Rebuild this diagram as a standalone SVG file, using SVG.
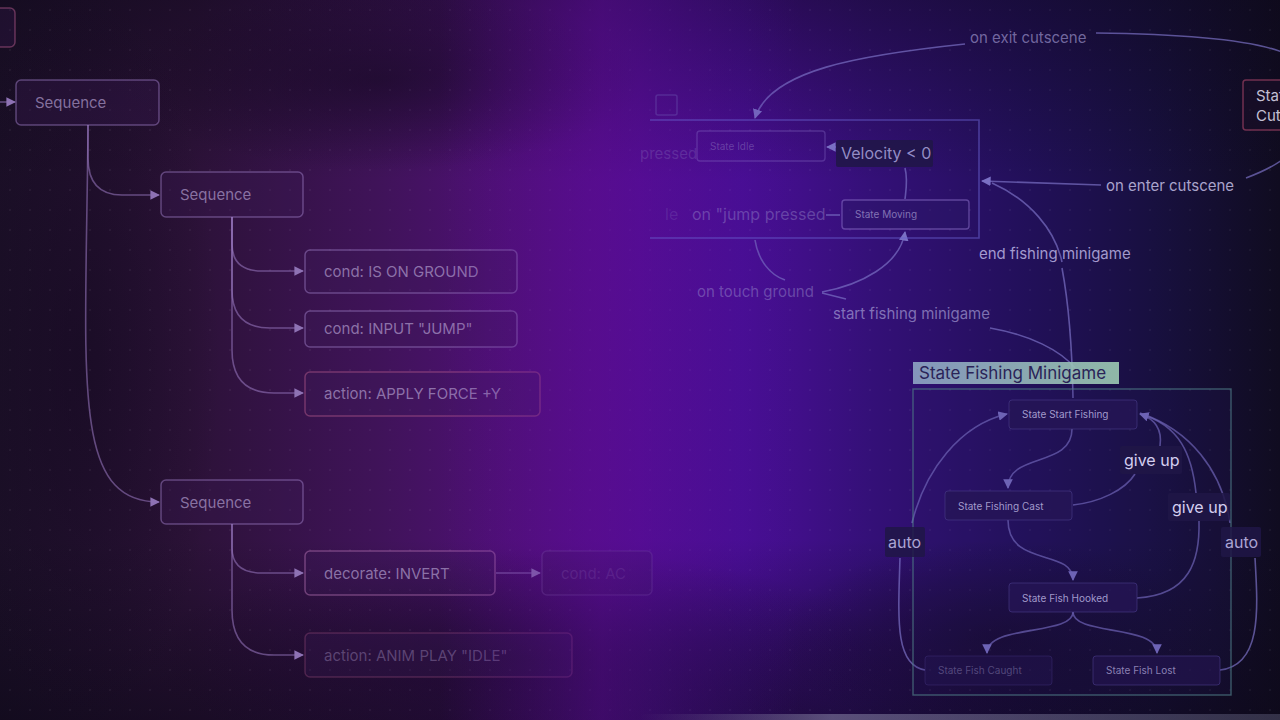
<svg xmlns="http://www.w3.org/2000/svg" width="1280" height="720" viewBox="0 0 1280 720">
<defs>
<linearGradient id="bg" x1="0" y1="0" x2="1" y2="0">
<stop offset="0" stop-color="#1c1028"/>
<stop offset="0.15" stop-color="#2c1238"/>
<stop offset="0.3" stop-color="#40135a"/>
<stop offset="0.42" stop-color="#520f7c"/>
<stop offset="0.5" stop-color="#5a0c96"/>
<stop offset="0.58" stop-color="#4a0e96"/>
<stop offset="0.68" stop-color="#341078"/>
<stop offset="0.8" stop-color="#22105a"/>
<stop offset="0.9" stop-color="#181040"/>
<stop offset="1" stop-color="#100c20"/>
</linearGradient>
<linearGradient id="vtop" x1="0" y1="0" x2="0" y2="1">
<stop offset="0" stop-color="#0d0818" stop-opacity="0.45"/>
<stop offset="0.25" stop-color="#0d0818" stop-opacity="0"/>
<stop offset="0.75" stop-color="#0d0818" stop-opacity="0"/>
<stop offset="1" stop-color="#0d0818" stop-opacity="0.6"/>
</linearGradient>
<radialGradient id="cloud" cx="0.5" cy="0.5" r="0.5">
<stop offset="0" stop-color="#12081e" stop-opacity="0.5"/>
<stop offset="1" stop-color="#12081e" stop-opacity="0"/>
</radialGradient>
<linearGradient id="haze" x1="0" y1="0" x2="1" y2="0">
<stop offset="0" stop-color="#560c90" stop-opacity="0"/>
<stop offset="0.45" stop-color="#560c92" stop-opacity="0.5"/>
<stop offset="0.6" stop-color="#4a0e90" stop-opacity="0.4"/>
<stop offset="1" stop-color="#3a0f88" stop-opacity="0"/>
</linearGradient>
<linearGradient id="tagbg" x1="0" y1="0" x2="1" y2="0">
<stop offset="0" stop-color="#8ea4c4"/>
<stop offset="1" stop-color="#9ccab2"/>
</linearGradient>
<linearGradient id="floor" x1="0" y1="0" x2="1" y2="0">
<stop offset="0" stop-color="#8a86a8" stop-opacity="0"/>
<stop offset="0.3" stop-color="#8a86a8" stop-opacity="0.55"/>
<stop offset="1" stop-color="#6a6a88" stop-opacity="0.4"/>
</linearGradient>
<pattern id="dots" width="20" height="20" patternUnits="userSpaceOnUse">
<circle cx="10" cy="10" r="1" fill="#ffffff" fill-opacity="0.06"/>
</pattern>
<marker id="ah" viewBox="0 0 10 10" refX="9" refY="5" markerWidth="6" markerHeight="6" orient="auto-start-reverse">
<path d="M0,0 L10,5 L0,10 z" fill="#8e72b4"/>
</marker>
<marker id="ahb" viewBox="0 0 10 10" refX="9" refY="5" markerWidth="6" markerHeight="6" orient="auto-start-reverse">
<path d="M0,0 L10,5 L0,10 z" fill="#7a70c4"/>
</marker>
<style>
.t{font-family:Inter,"Noto Sans","Liberation Sans",sans-serif}
.bt{fill:#3a1a56;fill-opacity:0.3;stroke:#9c7cc4;stroke-opacity:0.5;stroke-width:1.5}
.rt{fill:#3a1a56;fill-opacity:0.25;stroke:#b25a8a;stroke-opacity:0.5;stroke-width:1.5}
.lt{font-size:15px;fill:#b09ccc;fill-opacity:0.7}
.cl{fill:none;stroke:#9c7cc4;stroke-opacity:0.55;stroke-width:1.6}
.cb{fill:none;stroke:#7a70c4;stroke-opacity:0.7;stroke-width:1.6}
.sn{fill:#261656;fill-opacity:0.75;stroke:#4a3c8a;stroke-opacity:0.6;stroke-width:1}
.st{font-size:10px;fill:#bcb4e0;fill-opacity:0.85}
.el{font-size:15px;fill:#a49cd4;fill-opacity:0.85}
.lb{fill:#201646;fill-opacity:0.85}
.gl{font-size:16px;fill:#d4cef0}
</style>
</defs>
<rect width="1280" height="720" fill="url(#bg)"/>
<rect width="1280" height="720" fill="url(#vtop)"/>
<ellipse cx="520" cy="660" rx="380" ry="110" fill="url(#cloud)"/>
<ellipse cx="1000" cy="640" rx="220" ry="100" fill="url(#cloud)"/>
<ellipse cx="80" cy="360" rx="140" ry="380" fill="url(#cloud)"/>
<ellipse cx="380" cy="80" rx="260" ry="90" fill="url(#cloud)"/>
<rect width="1280" height="720" fill="url(#dots)"/>

<g id="connectors">
<line x1="0" y1="102" x2="15" y2="102" class="cl" marker-end="url(#ah)"/>
<path d="M88,125 V158 Q88,195 122,195 H159" class="cl" marker-end="url(#ah)"/>
<path d="M88,125 C86,380 70,502 159,502" class="cl" marker-end="url(#ah)"/>
<path d="M232,217 V244 Q232,271 262,271 H303" class="cl" marker-end="url(#ah)"/>
<path d="M232,217 V290 Q232,328 270,328 H303" class="cl" marker-end="url(#ah)"/>
<path d="M232,217 V350 Q232,393 274,393 H303" class="cl" marker-end="url(#ah)"/>
<path d="M232,524 V548 Q232,573 262,573 H303" class="cl" marker-end="url(#ah)"/>
<path d="M232,524 V610 Q232,655 274,655 H303" class="cl" marker-end="url(#ah)"/>
<line x1="496" y1="573" x2="540" y2="573" class="cl" stroke-opacity="0.4" marker-end="url(#ah)"/>

<path d="M965,44 C860,55 770,70 755,118" class="cb" marker-end="url(#ahb)"/>
<path d="M1096,33 C1180,34 1250,40 1282,52" class="cb"/>
<path d="M1101,185 L982,181" class="cb" marker-end="url(#ahb)"/>
<path d="M1246,178 C1262,172 1275,165 1282,160" class="cb"/>
<path d="M992,183 C1030,200 1055,230 1062,262" class="cb"/>
<path d="M1062,268 C1068,300 1072,340 1073,398" class="cb"/>
<path d="M990,328 C1030,335 1060,350 1075,368" class="cb"/>
<path d="M905,168 C908,180 906,190 905,199" class="cb"/>
<path d="M836,147 L827,147" class="cb" marker-end="url(#ahb)"/>
<path d="M826,215 L840,215" class="cb" stroke-opacity="0.45"/>
<path d="M755,240 C758,260 770,275 785,280" class="cb" stroke-opacity="0.45"/>
<path d="M822,292 C860,285 900,265 905,232" class="cb" stroke-opacity="0.55" marker-end="url(#ahb)"/>
<path d="M822,293 L846,299" class="cb" stroke-opacity="0.45"/>

<path d="M1072,429 C1072,468 1008,452 1008,488" class="cb" marker-end="url(#ahb)"/>
<path d="M1008,520 C1008,568 1073,548 1073,580" class="cb" marker-end="url(#ahb)"/>
<path d="M1073,612 C1073,636 987,624 987,653" class="cb" marker-end="url(#ahb)"/>
<path d="M1073,612 C1073,636 1157,624 1157,653" class="cb" marker-end="url(#ahb)"/>
<path d="M1073,505 C1100,502 1125,490 1135,474" class="cb"/>
<path d="M1160,446 C1162,432 1158,420 1140,414" class="cb" marker-end="url(#ahb)"/>
<path d="M1137,598 C1190,595 1200,560 1199,521" class="cb"/>
<path d="M1196,493 C1192,455 1180,425 1140,414" class="cb"/>
<path d="M925,670 C895,665 898,620 900,558" class="cb"/>
<path d="M912,523 C925,470 960,425 1007,414" class="cb" marker-end="url(#ahb)"/>
<path d="M1220,670 C1262,665 1258,610 1255,558" class="cb"/>
<path d="M1230,523 C1222,470 1190,430 1140,413" class="cb"/>
</g>

<g id="n-partial">
<rect x="-10" y="8" width="25" height="39" rx="5" class="rt"/>
</g>
<g id="n-seq1">
<rect x="16" y="80" width="143" height="45" rx="5" class="bt"/>
<text x="35" y="108" class="t lt">Sequence</text>
</g>
<g id="n-seq2">
<rect x="161" y="172" width="142" height="45" rx="5" class="bt"/>
<text x="180" y="200" class="t lt">Sequence</text>
</g>
<g id="n-ground">
<rect x="305" y="250" width="212" height="43" rx="5" class="bt"/>
<text x="324" y="277" class="t lt">cond: IS ON GROUND</text>
</g>
<g id="n-jump">
<rect x="305" y="311" width="212" height="36" rx="5" class="bt"/>
<text x="324" y="334" class="t lt">cond: INPUT "JUMP"</text>
</g>
<g id="n-force">
<rect x="305" y="372" width="235" height="44" rx="5" class="rt"/>
<text x="324" y="399" class="t lt">action: APPLY FORCE +Y</text>
</g>
<g id="n-seq3">
<rect x="161" y="480" width="142" height="44" rx="5" class="bt"/>
<text x="180" y="508" class="t lt">Sequence</text>
</g>
<g id="n-invert">
<rect x="305" y="551" width="190" height="44" rx="5" class="rt" style="stroke:#b270b0"/>
<text x="324" y="579" class="t lt">decorate: INVERT</text>
</g>
<g id="n-condac">
<rect x="542" y="551" width="110" height="44" rx="5" class="bt" style="stroke-opacity:0.25"/>
<text x="561" y="579" class="t lt" style="fill-opacity:0.25">cond: AC</text>
</g>
<g id="n-anim">
<rect x="305" y="633" width="267" height="44" rx="5" class="rt" style="stroke-opacity:0.3"/>
<text x="324" y="661" class="t lt" style="fill-opacity:0.38">action: ANIM PLAY "IDLE"</text>
</g>

<rect x="440" y="0" width="360" height="720" fill="url(#haze)"/>

<g id="n-tag">
<rect x="656" y="95" width="21" height="20" rx="2" fill="none" stroke="#7a70c4" stroke-opacity="0.3" stroke-width="1.5"/>
</g>
<g id="n-ground-sm">
<path d="M650,120 H979 V238 H650" fill="none" stroke="#6a60d0" stroke-opacity="0.55" stroke-width="1.6"/>
</g>
<g id="n-idle">
<rect x="697" y="131" width="128" height="30" rx="3" fill="none" stroke="#8a70c8" stroke-opacity="0.35" stroke-width="1.4"/>
<text x="710" y="150" class="t st" style="fill-opacity:0.3">State Idle</text>
<text x="640" y="159" class="t el" style="font-size:15px;fill-opacity:0.22">pressed</text>
</g>
<g id="n-velocity">
<rect x="836" y="140" width="97" height="27" rx="2" class="lb" fill-opacity="0.5"/>
<text x="841" y="159" class="t" style="font-size:16px;fill:#aaa4dc;fill-opacity:0.85">Velocity &lt; 0</text>
</g>
<g id="n-moving">
<rect x="842" y="200" width="127" height="29" rx="3" fill="#2a1a66" fill-opacity="0.4" stroke="#8a70c8" stroke-opacity="0.55" stroke-width="1.4"/>
<text x="855" y="218" class="t st" style="fill-opacity:0.6">State Moving</text>
</g>
<text x="692" y="220" class="t" style="font-size:16px;fill:#a49cd4;fill-opacity:0.38">on "jump pressed</text>
<text x="665" y="220" class="t" style="font-size:16px;fill:#a49cd4;fill-opacity:0.16">le</text>
<text x="697" y="297" class="t" style="font-size:15px;fill:#a49cd4;fill-opacity:0.42">on touch ground</text>
<text x="833" y="319" class="t el" style="fill-opacity:0.7">start fishing minigame</text>
<text x="970" y="43" class="t el" style="fill-opacity:0.65">on exit cutscene</text>
<text x="1106" y="191" class="t el" style="fill:#c6c0e6">on enter cutscene</text>
<text x="979" y="259" class="t el" style="fill:#bcb4e4">end fishing minigame</text>

<g id="n-cutscene">
<rect x="1243" y="80" width="60" height="50" rx="3" fill="#1a0f28" fill-opacity="0.6" stroke="#8a3a5a" stroke-opacity="0.8" stroke-width="1.5"/>
<text x="1256" y="101" class="t" style="font-size:15px;fill:#c4c0d4">State</text>
<text x="1256" y="121" class="t" style="font-size:15px;fill:#c4c0d4">Cutscene</text>
</g>

<g id="n-fishing">
<rect x="913" y="389" width="318" height="306" fill="#2a1a66" fill-opacity="0.15" stroke="#4e7a84" stroke-opacity="0.7" stroke-width="1.4"/>
<rect x="913" y="362" width="206" height="22" fill="url(#tagbg)" fill-opacity="0.9"/>
<text x="919" y="379" class="t" style="font-size:17px;fill:#2a2358">State Fishing Minigame</text>
</g>
<g id="n-start">
<rect x="1009" y="400" width="128" height="29" rx="3" class="sn"/>
<text x="1022" y="418" class="t st">State Start Fishing</text>
</g>
<g id="n-cast">
<rect x="945" y="491" width="127" height="29" rx="3" class="sn"/>
<text x="958" y="510" class="t st">State Fishing Cast</text>
</g>
<g id="n-hooked">
<rect x="1009" y="583" width="128" height="29" rx="3" class="sn"/>
<text x="1022" y="602" class="t st">State Fish Hooked</text>
</g>
<g id="n-caught">
<rect x="925" y="656" width="127" height="29" rx="3" class="sn" style="fill-opacity:0.4;stroke-opacity:0.35"/>
<text x="938" y="674" class="t st" style="fill-opacity:0.35">State Fish Caught</text>
</g>
<g id="n-lost">
<rect x="1093" y="656" width="127" height="29" rx="3" class="sn" style="fill-opacity:0.55"/>
<text x="1106" y="674" class="t st" style="fill-opacity:0.7">State Fish Lost</text>
</g>
<g id="l-giveup1">
<rect x="1120" y="446" width="62" height="28" rx="2" class="lb"/>
<text x="1124" y="466" class="t gl">give up</text>
</g>
<g id="l-giveup2">
<rect x="1168" y="493" width="62" height="28" rx="2" class="lb"/>
<text x="1172" y="513" class="t gl">give up</text>
</g>
<g id="l-auto1">
<rect x="885" y="527" width="40" height="30" rx="2" class="lb" fill-opacity="0.5"/>
<text x="888" y="548" class="t" style="font-size:16px;fill:#aca4d4">auto</text>
</g>
<g id="l-auto2">
<rect x="1221" y="527" width="40" height="30" rx="2" class="lb" fill-opacity="0.6"/>
<text x="1225" y="548" class="t" style="font-size:16px;fill:#aca4d4">auto</text>
</g>
<rect x="640" y="714" width="640" height="6" fill="url(#floor)"/>
</svg>
